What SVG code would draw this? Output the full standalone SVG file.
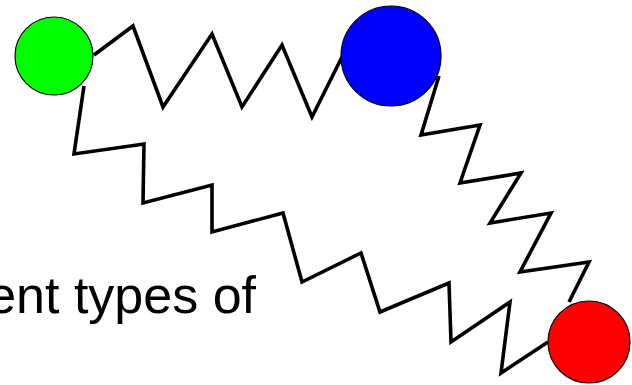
<svg xmlns="http://www.w3.org/2000/svg" width="632" height="385" viewBox="0 0 632 385">
<style>
.spring{fill:none;stroke:#000;stroke-width:3.6;stroke-linejoin:miter;stroke-miterlimit:10}
.ball{stroke:#000;stroke-width:1.2}
.lbl{font-family:"Liberation Sans",Arial,sans-serif;font-size:52px;fill:#000}
</style>
<rect width="632" height="385" fill="#fff"/>
<g id="connectors">
<polyline class="spring" points="94,55 133,26 163,107 212,34 242,107 282,45 312,117 342,57"/>
<polyline class="spring" points="84,86 74,154 144,144 143,203 212,185 212,232 283,213 302,282 361,253 380,312 449,283 451,342 510,302 501,373 548,342"/>
<polyline class="spring" points="439,76 421,135 480,125 460,183 521,173 490,223 551,213 520,272 589,262 569,302"/>
</g>
<g id="green"><circle class="ball" cx="54" cy="56" r="39" fill="#00ff00"/></g>
<g id="blue"><circle class="ball" cx="391" cy="56" r="50" fill="#0000ff"/></g>
<g id="red"><circle class="ball" cx="589" cy="342" r="41" fill="#ff0000"/></g>
<g id="label"><text class="lbl" x="256" y="313" text-anchor="end">ent types of</text></g>
</svg>
